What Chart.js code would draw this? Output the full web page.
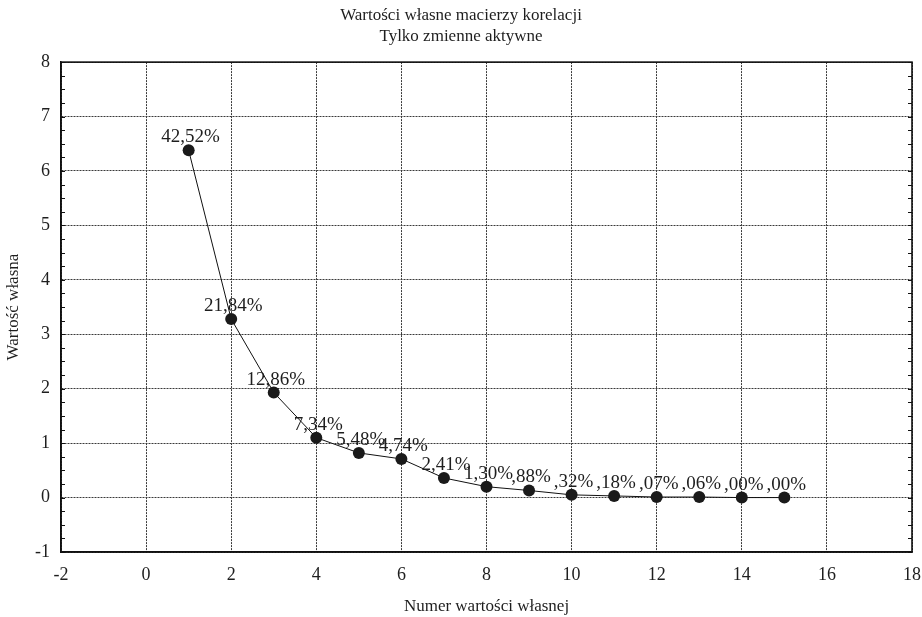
<!DOCTYPE html>
<html>
<head>
<meta charset="utf-8">
<script src="https://cdn.jsdelivr.net/npm/chart.js@4"></script>
<style>
html,body{margin:0;padding:0;background:#fff;}
#wrap{width:922px;height:617px;}
</style>
</head>
<body>
<div id="wrap"><canvas id="c" width="922" height="617"></canvas></div>
<script>
// ---- data ----
const componentNumbers = [1, 2, 3, 4, 5, 6, 7, 8, 9, 10, 11, 12, 13, 14, 15];
const eigenvalues = [6.38, 3.28, 1.93, 1.10, 0.82, 0.71, 0.36, 0.20, 0.13, 0.05, 0.03, 0.01, 0.01, 0.00, 0.00];
const percentLabels = ['42,52%', '21,84%', '12,86%', '7,34%', '5,48%', '4,74%', '2,41%', '1,30%', ',88%', ',32%', ',18%', ',07%', ',06%', ',00%', ',00%'];
const chartTitle = ['Wartości własne macierzy korelacji', 'Tylko zmienne aktywne'];
const xAxisTitle = 'Numer wartości własnej';
const yAxisTitle = 'Wartość własna';
const xRange = [-2, 18];
const xStep = 2;
const yRange = [-1, 8];
const yStep = 1;
const yMinorStep = 0.25;

const FONT = '"Liberation Serif", "Times New Roman", serif';
const TEXT = '#1e1e1e';

const points = componentNumbers.map((n, i) => ({ x: n, y: eigenvalues[i] }));

const framePlugin = {
  id: 'frame',
  afterDraw(chart) {
    const { ctx, chartArea: a, scales } = chart;
    const y = scales.y;
    ctx.save();
    ctx.strokeStyle = '#111';
    ctx.lineWidth = 1;
    ctx.beginPath();
    for (let v = yRange[0]; v <= yRange[1] + 1e-9; v += yMinorStep) {
      const py = Math.round(y.getPixelForValue(v)) + 0.5;
      ctx.moveTo(a.left, py); ctx.lineTo(a.left + 4, py);
      ctx.moveTo(a.right - 4, py); ctx.lineTo(a.right, py);
    }
    ctx.stroke();
    ctx.lineWidth = 1.6;
    ctx.strokeRect(a.left, a.top, a.right - a.left, a.bottom - a.top);
    ctx.restore();
  }
};

const labelPlugin = {
  id: 'pctLabels',
  afterDatasetsDraw(chart) {
    const { ctx } = chart;
    const meta = chart.getDatasetMeta(0);
    ctx.save();
    ctx.font = '19px ' + FONT;
    ctx.fillStyle = TEXT;
    ctx.textAlign = 'center';
    ctx.textBaseline = 'alphabetic';
    meta.data.forEach((pt, i) => {
      ctx.fillText(percentLabels[i], pt.x + 2, pt.y - 8);
    });
    ctx.restore();
  }
};

new Chart(document.getElementById('c'), {
  type: 'scatter',
  data: {
    datasets: [{
      data: points,
      showLine: true,
      borderColor: '#111',
      borderWidth: 1,
      tension: 0,
      pointRadius: 6,
      pointHoverRadius: 6,
      pointBackgroundColor: '#1a1a1a',
      pointBorderColor: '#1a1a1a',
      pointBorderWidth: 0
    }]
  },
  options: {
    responsive: false,
    animation: false,
    devicePixelRatio: 1,
    layout: { padding: { left: 0, right: 0, top: 0, bottom: 0 } },
    plugins: {
      legend: { display: false },
      tooltip: { enabled: false },
      title: {
        display: true,
        text: chartTitle,
        color: TEXT,
        font: { family: FONT, size: 17, weight: 'normal', lineHeight: 1.18 },
        padding: { top: 6, bottom: 16 }
      }
    },
    scales: {
      x: {
        type: 'linear',
        min: xRange[0], max: xRange[1],
        afterFit(s) { s.height = 65; s.paddingRight = 10; s.paddingLeft = 0; },
        ticks: { stepSize: xStep, color: TEXT, padding: 12, font: { family: FONT, size: 18 } },
        grid: { color: '#3a3a3a', lineWidth: 1, drawTicks: false },
        border: { display: true, color: '#111', width: 1.5, dash: [2, 1] },
        title: { display: true, text: xAxisTitle, color: TEXT, font: { family: FONT, size: 17 }, padding: { top: 0, bottom: 0 } }
      },
      y: {
        type: 'linear',
        min: yRange[0], max: yRange[1],
        afterFit(s) { s.width = 61; },
        ticks: { stepSize: yStep, color: TEXT, padding: 11, font: { family: FONT, size: 18 } },
        grid: { color: '#3a3a3a', lineWidth: 1, drawTicks: false },
        border: { display: true, color: '#111', width: 1.5, dash: [2, 1] },
        title: { display: true, text: yAxisTitle, color: TEXT, font: { family: FONT, size: 17 }, padding: { top: 3, bottom: 0 } }
      }
    }
  },
  plugins: [framePlugin, labelPlugin]
});
</script>
</body>
</html>
